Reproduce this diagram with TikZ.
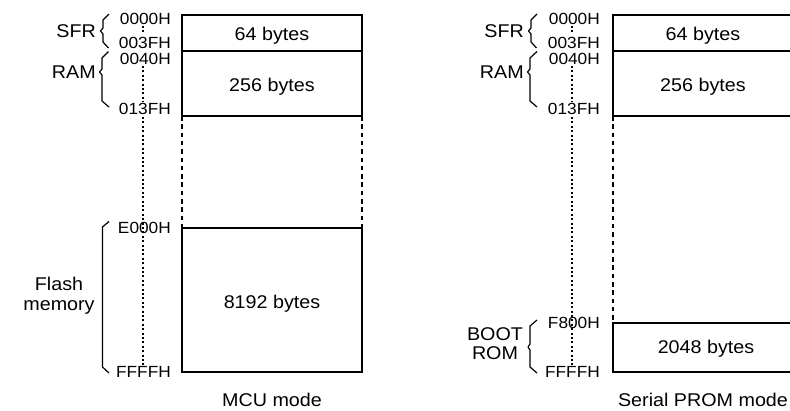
\documentclass[tikz,border=0pt]{standalone}
\usepackage{fontspec}
\setmainfont[FakeStretch=1.07]{Liberation Sans}
\begin{document}
\begin{tikzpicture}[x=1bp,y=-1bp,
  membox/.style={draw,line width=1.2bp,minimum width=180bp,inner sep=0pt,outer sep=0pt},
  addr/.style={inner sep=0pt,font=\fontsize{16.2}{18}\selectfont,anchor=east},
  lbl/.style={inner sep=0pt,font=\fontsize{18.5}{20}\selectfont},
  bytes/.style={inner sep=0pt,font=\fontsize{18.5}{20}\selectfont,anchor=base},
  guide/.style={line width=1.2bp,dash pattern=on 4.5bp off 3.8bp},
  dotline/.style={line width=1.2bp,dash pattern=on 2bp off 2.4bp},
  brc/.style={line width=1.2bp,line join=round}]
\useasboundingbox (0,0) rectangle (790,410);

% ---------- MCU mode (left) ----------
\node[membox,minimum height=36bp] (sfrL) at (272,33) {};
\node[membox,minimum height=65bp] (ramL) at (272,83.5) {};
\node[membox,minimum height=144bp] (flashL) at (272,300) {};
\node[bytes] (tsfrL) at (272,40) {64 bytes};
\node[bytes] (tramL) at (272,91.5) {256 bytes};
\node[bytes] (tflashL) at (272,308) {8192 bytes};
\draw[guide] (ramL.south west) -- (flashL.north west);
\draw[guide] (ramL.south east) -- (flashL.north east);

\node[addr] (a1L) at (171,19) {0000H};
\node[addr] (a2L) at (171,42.5) {003FH};
\node[addr] (a3L) at (171,58.5) {0040H};
\node[addr] (a4L) at (171,108.5) {013FH};
\node[addr] (a5L) at (171,228) {E000H};
\node[addr] (a6L) at (171,372) {FFFFH};

\coordinate (d1L) at (143,26); \coordinate (d2L) at (143,34);
\coordinate (d3L) at (143,66); \coordinate (d4L) at (143,102);
\coordinate (d5L) at (143,117); \coordinate (d6L) at (143,366);
\draw[dotline] (d1L) -- (d2L);
\draw[dotline] (d3L) -- (d4L);
\draw[dotline] (d5L) -- (d6L);

\draw[brc] (109,14) -- (103,20) -- (103,28) -- (100.5,31) -- (103,34) -- (103,42) -- (108.5,48);
\draw[brc] (108.5,51.5) -- (102,58) -- (102,69) -- (99.5,72) -- (102,75) -- (102,101) -- (109,107);
\draw[brc] (109,221.5) -- (102.5,227) -- (102.5,367) -- (109,373);

\node[lbl,anchor=east] (sfrlblL) at (96,31) {SFR};
\node[lbl,anchor=east] (ramlblL) at (96,72.5) {RAM};
\node[lbl,anchor=base] (flash1) at (59,290) {Flash};
\node[lbl,anchor=base] (flash2) at (59,310) {memory};
\node[lbl,anchor=base] (modeL) at (272,406) {MCU mode};

% ---------- Serial PROM mode (right) ----------
\node[membox,minimum height=36bp] (sfrR) at (703,33) {};
\node[membox,minimum height=65bp] (ramR) at (703,83.5) {};
\node[membox,minimum height=49bp] (bootR) at (703,347.5) {};
\node[bytes] (tsfrR) at (703,40) {64 bytes};
\node[bytes] (tramR) at (703,91.5) {256 bytes};
\node[bytes] (tbootR) at (706,353) {2048 bytes};
\draw[guide] (ramR.south west) -- (bootR.north west);
\draw[guide] (ramR.south east) -- (bootR.north east);

\node[addr] (a1R) at (600,19) {0000H};
\node[addr] (a2R) at (600,42.5) {003FH};
\node[addr] (a3R) at (600,58.5) {0040H};
\node[addr] (a4R) at (600,108.5) {013FH};
\node[addr] (a5R) at (600,323) {F800H};
\node[addr] (a6R) at (600,372) {FFFFH};

\coordinate (d1R) at (572,26); \coordinate (d2R) at (572,34);
\coordinate (d3R) at (572,66); \coordinate (d4R) at (572,102);
\coordinate (d5R) at (572,117); \coordinate (d6R) at (572,366);
\draw[dotline] (d1R) -- (d2R);
\draw[dotline] (d3R) -- (d4R);
\draw[dotline] (d5R) -- (d6R);

\draw[brc] (537,14) -- (531,20) -- (531,28) -- (528.5,31) -- (531,34) -- (531,42) -- (536.5,48);
\draw[brc] (537,51.5) -- (530,58) -- (530,69) -- (527.5,72) -- (530,75) -- (530,101) -- (537,107);
\draw[brc] (537,320) -- (530,326) -- (530,344) -- (528,347) -- (530,350) -- (530,367) -- (537,373);

\node[lbl,anchor=east] (sfrlblR) at (524,31) {SFR};
\node[lbl,anchor=east] (ramlblR) at (524,72.5) {RAM};
\node[lbl,anchor=base] (boot1) at (495,340) {BOOT};
\node[lbl,anchor=base] (boot2) at (495,359) {ROM};
\node[lbl,anchor=base] (modeR) at (703,406) {Serial PROM mode};
\end{tikzpicture}
\end{document}
